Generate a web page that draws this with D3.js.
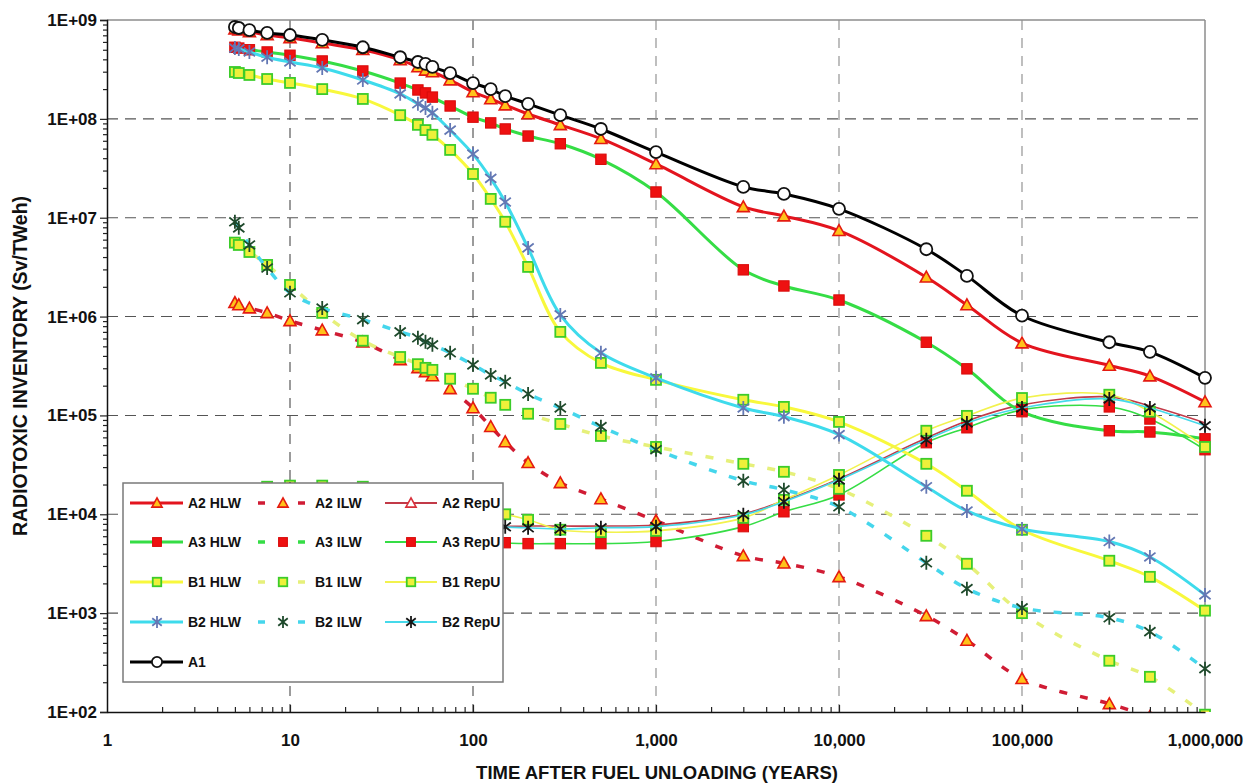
<!DOCTYPE html>
<html>
<head>
<meta charset="utf-8">
<script src="https://cdn.jsdelivr.net/npm/d3@7"></script>
<style>
  html, body { margin: 0; padding: 0; background: #fff; }
  svg { display: block; }
  text { font-family: "Liberation Sans", Arial, Helvetica, sans-serif; font-weight: bold; fill: #111; }
</style>
</head>
<body>
<svg id="chart" width="1256" height="783"></svg>
<script>
// ---------- data ----------
const years = [5, 5.25, 6, 7.5, 10, 15, 25, 40, 50, 55, 60, 75, 100, 125, 150, 200, 300, 500,
  1000, 3000, 5000, 10000, 30000, 50000, 100000, 300000, 500000, 1000000];

const a1 = [8.5e8, 8.3e8, 7.9e8, 7.4e8, 7.05e8, 6.3e8, 5.3e8, 4.2e8, 3.76e8, 3.6e8, 3.35e8, 2.9e8, 2.3e8, 2.0e8,
  1.7e8, 1.42e8, 1.09e8, 7.9e7, 4.6e7, 2.05e7, 1.74e7, 1.23e7, 4.8e6, 2.58e6, 1.02e6, 5.5e5, 4.4e5, 2.4e5];

const a2Hlw = [8.1e8, 7.9e8, 7.6e8, 7.05e8, 6.6e8, 5.85e8, 5.0e8, 3.95e8, 3.35e8, 3.1e8, 2.98e8, 2.47e8, 1.87e8, 1.59e8,
  1.38e8, 1.12e8, 8.7e7, 6.3e7, 3.5e7, 1.29e7, 1.04e7, 7.4e6, 2.5e6, 1.31e6, 5.4e5, 3.2e5, 2.5e5, 1.37e5];
const a2Ilw = [1.38e6, 1.31e6, 1.22e6, 1.09e6, 9.05e5, 7.3e5, 5.5e5, 3.65e5, 3.03e5, 2.76e5, 2.51e5, 1.86e5, 1.19e5, 7.7e4,
  5.4e4, 3.32e4, 2.08e4, 1.43e4, 8.6e3, 3.8e3, 3.2e3, 2.33e3, 9.4e2, 5.3e2, 2.17e2, 1.21e2, 9.0e1, 6.0e1];
const a2RepU = [1.25e4, 1.35e4, 1.55e4, 1.75e4, 1.85e4, 1.8e4, 1.65e4, 1.4e4, 1.25e4, 1.2e4, 1.15e4, 1.0e4, 9.0e3, 8.2e3,
  7.6e3, 7.6e3, 7.6e3, 7.6e3, 7.8e3, 1.01e4, 1.37e4, 2.28e4, 5.9e4, 8.8e4, 1.28e5, 1.54e5, 1.25e5, 8.4e4];

const a3Hlw = [5.3e8, 5.2e8, 5.0e8, 4.75e8, 4.4e8, 3.85e8, 3.05e8, 2.3e8, 1.96e8, 1.83e8, 1.66e8, 1.35e8, 1.04e8, 9.1e7,
  7.9e7, 6.7e7, 5.6e7, 3.9e7, 1.82e7, 2.97e6, 2.04e6, 1.47e6, 5.5e5, 2.96e5, 1.09e5, 7.0e4, 6.8e4, 5.8e4];
const a3Ilw = [];
const a3RepU = [9.0e3, 1.0e4, 1.1e4, 1.25e4, 1.3e4, 1.25e4, 1.1e4, 9.0e3, 8.0e3, 7.6e3, 7.3e3, 6.5e3, 5.9e3, 5.5e3,
  5.16e3, 5.05e3, 5.05e3, 5.05e3, 5.3e3, 7.5e3, 1.06e4, 1.57e4, 5.3e4, 7.5e4, 1.14e5, 1.22e5, 9.2e4, 4.5e4];

const b1Hlw = [2.98e8, 2.91e8, 2.78e8, 2.53e8, 2.31e8, 2.0e8, 1.59e8, 1.09e8, 8.7e7, 7.7e7, 6.9e7, 4.85e7, 2.77e7, 1.55e7,
  9.1e6, 3.18e6, 7.0e5, 3.4e5, 2.29e5, 1.44e5, 1.22e5, 8.6e4, 3.24e4, 1.73e4, 6.97e3, 3.39e3, 2.33e3, 1.06e3];
const b1Ilw = [5.6e6, 5.3e6, 4.5e6, 3.33e6, 2.09e6, 1.09e6, 5.7e5, 3.9e5, 3.3e5, 3.03e5, 2.89e5, 2.35e5, 1.86e5, 1.51e5,
  1.28e5, 1.04e5, 8.2e4, 6.2e4, 4.8e4, 3.24e4, 2.69e4, 1.81e4, 6.06e3, 3.16e3, 1.0e3, 3.3e2, 2.27e2, 9.4e1];
const b1RepU = [1.3e4, 1.4e4, 1.6e4, 1.9e4, 1.95e4, 1.95e4, 1.9e4, 1.65e4, 1.5e4, 1.45e4, 1.4e4, 1.25e4, 1.1e4, 1.05e4,
  1.0e4, 8.8e3, 6.98e3, 6.6e3, 6.8e3, 9.2e3, 1.4e4, 2.5e4, 7.0e4, 9.9e4, 1.5e5, 1.62e5, 1.09e5, 4.8e4];

const b2Hlw = [5.2e8, 5.1e8, 4.75e8, 4.2e8, 3.76e8, 3.27e8, 2.47e8, 1.79e8, 1.42e8, 1.29e8, 1.15e8, 7.7e7, 4.4e7, 2.5e7,
  1.44e7, 4.95e6, 1.04e6, 4.3e5, 2.4e5, 1.19e5, 9.7e4, 6.4e4, 1.9e4, 1.08e4, 7.1e3, 5.3e3, 3.7e3, 1.53e3];
const b2Ilw = [9.1e6, 7.9e6, 5.3e6, 3.1e6, 1.74e6, 1.22e6, 9.3e5, 7.0e5, 6.1e5, 5.56e5, 5.18e5, 4.3e5, 3.25e5, 2.57e5,
  2.19e5, 1.65e5, 1.19e5, 7.7e4, 4.5e4, 2.18e4, 1.77e4, 1.19e4, 3.23e3, 1.77e3, 1.13e3, 8.97e2, 6.5e2, 2.74e2];
const b2RepU = [1.2e4, 1.3e4, 1.5e4, 1.7e4, 1.8e4, 1.75e4, 1.6e4, 1.35e4, 1.2e4, 1.15e4, 1.1e4, 9.8e3, 8.8e3, 8.0e3,
  7.47e3, 7.3e3, 7.1e3, 7.3e3, 7.5e3, 9.9e3, 1.34e4, 2.23e4, 5.67e4, 8.4e4, 1.19e5, 1.47e5, 1.19e5, 7.86e4];

const yTickValues = [1e2, 1e3, 1e4, 1e5, 1e6, 1e7, 1e8, 1e9];
const xTickValues = [1, 10, 100, 1000, 10000, 100000, 1000000];
const xTitle = "TIME AFTER FUEL UNLOADING (YEARS)";
const yTitle = "RADIOTOXIC INVENTORY (Sv/TWeh)";

// ---------- series styling ----------
const series = [
  { name: "A2 HLW",  values: a2Hlw,  kind: "hlw",  line: "#e3141e", marker: "tri" },
  { name: "A2 ILW",  values: a2Ilw,  kind: "ilw",  line: "#d01c34", marker: "tri" },
  { name: "A2 RepU", values: a2RepU, kind: "repu", line: "#c23a48", marker: "triHollow", plotMarkers: false },
  { name: "A3 HLW",  values: a3Hlw,  kind: "hlw",  line: "#35dd45", marker: "redSq" },
  { name: "A3 ILW",  values: a3Ilw,  kind: "ilw",  line: "#35dd45", marker: "redSq" },
  { name: "A3 RepU", values: a3RepU, kind: "repu", line: "#35dd45", marker: "redSq" },
  { name: "B1 HLW",  values: b1Hlw,  kind: "hlw",  line: "#f8f83c", marker: "ySq" },
  { name: "B1 ILW",  values: b1Ilw,  kind: "ilw",  line: "#e6f07a", marker: "ySq" },
  { name: "B1 RepU", values: b1RepU, kind: "repu", line: "#f2f24e", marker: "ySq" },
  { name: "B2 HLW",  values: b2Hlw,  kind: "hlw",  line: "#3edbec", marker: "starBlue" },
  { name: "B2 ILW",  values: b2Ilw,  kind: "ilw",  line: "#45d6ec", marker: "starGreen" },
  { name: "B2 RepU", values: b2RepU, kind: "repu", line: "#45d9ea", marker: "starBlack" },
  { name: "A1",      values: a1,     kind: "hlw",  line: "#000000", marker: "circle" }
];

const widthFor = { hlw: 3, ilw: 3.5, repu: 1.6 };
const dashFor = { hlw: null, ilw: "8,13", repu: null };

// ---------- layout ----------
const svg = d3.select("#chart");
const X0 = 107, X1 = 1205, Y0 = 20, Y1 = 712;
const x = d3.scaleLog().domain([1, 1e6]).range([X0, X1]);
const y = d3.scaleLog().domain([1e2, 1e9]).range([Y1, Y0]);

// gridlines
const grid = svg.append("g").attr("stroke", "#555").attr("stroke-width", 1.1).attr("stroke-dasharray", "11,7");
grid.selectAll("line.h").data(yTickValues.filter(v => v > 1e2 && v < 1e9)).join("line")
  .attr("x1", X0).attr("x2", X1).attr("y1", d => y(d)).attr("y2", d => y(d));
grid.selectAll("line.v").data(xTickValues.filter(v => v > 1 && v < 1e6)).join("line")
  .attr("y1", Y0).attr("y2", Y1).attr("x1", d => x(d)).attr("x2", d => x(d))
  .attr("stroke-dasharray", "10,8").attr("stroke", d => d >= 1000 ? "#8a8a8a" : "#4a4a4a");

// frame top & right
svg.append("line").attr("x1", X0).attr("x2", X1).attr("y1", Y0).attr("y2", Y0).attr("stroke", "#8c8c8c").attr("stroke-width", 1.5);
svg.append("line").attr("x1", X1).attr("x2", X1).attr("y1", Y0).attr("y2", Y1).attr("stroke", "#8c8c8c").attr("stroke-width", 1.5);

// clip
svg.append("clipPath").attr("id", "plotclip").append("rect")
  .attr("x", X0).attr("y", Y0 - 8).attr("width", X1 - X0 + 8).attr("height", Y1 - Y0 + 8);

// marker drawing
function drawMarker(g, type, size) {
  const s = size || 1;
  if (type === "tri" || type === "triHollow") {
    const r = 6 * s;
    g.append("path").attr("d", `M0,${-r} L${r * 1.0},${r * 0.8} L${-r * 1.0},${r * 0.8} Z`)
      .attr("fill", type === "tri" ? "#ffc21a" : "#ffffff")
      .attr("stroke", type === "tri" ? "#e41a10" : "#d8303a").attr("stroke-width", 1.6);
  } else if (type === "redSq") {
    const h = 5.2 * s;
    g.append("rect").attr("x", -h).attr("y", -h).attr("width", 2 * h).attr("height", 2 * h)
      .attr("fill", "#ee1111").attr("stroke", "#d80c0c").attr("stroke-width", 1);
  } else if (type === "ySq") {
    const h = 5 * s;
    g.append("rect").attr("x", -h).attr("y", -h).attr("width", 2 * h).attr("height", 2 * h)
      .attr("fill", "#eef03a").attr("stroke", "#3ccc2a").attr("stroke-width", 1.8);
  } else if (type.startsWith("star")) {
    const r = 7 * s;
    const col = type === "starBlue" ? "#6478b4" : type === "starGreen" ? "#1f4a2c" : "#161616";
    const a = r * 0.8, b = r * 0.62;
    g.append("path").attr("d", `M0,${-r} L0,${r} M${-a},${-b} L${a},${b} M${-a},${b} L${a},${-b}`)
      .attr("stroke", col).attr("stroke-width", 1.8).attr("fill", "none");
  } else if (type === "circle") {
    g.append("circle").attr("r", 6 * s).attr("fill", "#fff").attr("stroke", "#111").attr("stroke-width", 1.8);
  }
}

const lineGen = d3.line()
  .defined(d => d[1] != null)
  .x(d => x(d[0])).y(d => y(d[1]))
  .curve(d3.curveCatmullRom.alpha(0.5));

const plot = svg.append("g").attr("clip-path", "url(#plotclip)");
series.forEach(s => {
  if (!s.values.length) return;
  const pts = years.map((t, i) => [t, s.values[i]]);
  const g = plot.append("g");
  const p = g.append("path").attr("d", lineGen(pts)).attr("fill", "none")
    .attr("stroke", s.line).attr("stroke-width", widthFor[s.kind]);
  if (dashFor[s.kind]) p.attr("stroke-dasharray", dashFor[s.kind]);
  if (s.plotMarkers === false) return;
  pts.forEach(d => {
    if (y(d[1]) > Y1 + 7) return;
    const mg = g.append("g").attr("transform", `translate(${x(d[0])},${y(d[1])})`);
    drawMarker(mg, s.marker, 1);
  });
});

// axes
const fmtY = v => "1E+" + String(Math.round(Math.log10(v))).padStart(2, "0");
const yAxis = svg.append("g").attr("transform", `translate(${X0},0)`)
  .call(d3.axisLeft(y).tickValues(yTickValues).tickFormat(fmtY).tickSize(7).tickPadding(3));
const minorY = [];
for (let k = 2; k < 9; k++) for (let m = 2; m <= 9; m++) minorY.push(m * Math.pow(10, k));
svg.append("g").attr("transform", `translate(${X0},0)`)
  .call(d3.axisLeft(y).tickValues(minorY).tickFormat("").tickSize(4))
  .call(g => g.select(".domain").remove());

const xAxis = svg.append("g").attr("transform", `translate(0,${Y1})`)
  .call(d3.axisBottom(x).tickValues(xTickValues).tickFormat(d3.format(",")).tickSizeInner(-7).tickSizeOuter(0).tickPadding(22));
const minorX = [];
for (let k = 0; k < 6; k++) for (let m = 2; m <= 9; m++) minorX.push(m * Math.pow(10, k));
svg.append("g").attr("transform", `translate(0,${Y1})`)
  .call(d3.axisBottom(x).tickValues(minorX).tickFormat("").tickSize(-5))
  .call(g => g.select(".domain").remove());

svg.selectAll(".domain").attr("stroke", "#111").attr("stroke-width", 1.5);
svg.selectAll(".tick line").attr("stroke", "#222").attr("stroke-width", 1.2);
yAxis.selectAll("text").style("font-size", "17px").style("font-family", "'Liberation Sans', Arial, sans-serif")
  .style("font-weight", "bold").attr("fill", "#111");
xAxis.selectAll("text").style("font-size", "17px").style("font-family", "'Liberation Sans', Arial, sans-serif")
  .style("font-weight", "bold").attr("fill", "#111");
xAxis.selectAll(".tick").filter(d => d === 1 || d === 1e6).select("line").remove();

// titles
svg.append("text").attr("x", 657).attr("y", 779).attr("text-anchor", "middle")
  .style("font-size", "18.5px").text(xTitle);
svg.append("text").attr("transform", "translate(27,366) rotate(-90)").attr("text-anchor", "middle")
  .style("font-size", "19.5px").text(yTitle);

// legend
const LX = 123, LY = 483, LW = 380, LH = 199;
const leg = svg.append("g");
leg.append("rect").attr("x", LX).attr("y", LY).attr("width", LW).attr("height", LH)
  .attr("fill", "#fff").attr("stroke", "#7a7a7a").attr("stroke-width", 1.5);
const rowY = [503, 542, 582, 622, 662];
const cols = [
  { x1: 130, x2: 183, mx: 157, tx: 188 },
  { x1: 258, x2: 305, mx: 283, tx: 315 },
  { x1: 385, x2: 437, mx: 411, tx: 442 }
];
const legendRows = [
  ["A2 HLW", "A2 ILW", "A2 RepU"],
  ["A3 HLW", "A3 ILW", "A3 RepU"],
  ["B1 HLW", "B1 ILW", "B1 RepU"],
  ["B2 HLW", "B2 ILW", "B2 RepU"],
  ["A1"]
];
legendRows.forEach((row, ri) => {
  row.forEach((name, ci) => {
    const s = series.find(d => d.name === name);
    const c = cols[ci], yy = rowY[ri];
    const l = leg.append("line").attr("x1", c.x1).attr("x2", c.x2).attr("y1", yy).attr("y2", yy)
      .attr("stroke", s.line).attr("stroke-width", s.kind === "repu" ? 1.8 : (s.kind === "ilw" ? 3.5 : 3.2));
    if (s.kind === "ilw") l.attr("stroke-dasharray", "7,33,7");
    const mg = leg.append("g").attr("transform", `translate(${c.mx},${yy})`);
    drawMarker(mg, s.marker, 0.85);
    leg.append("text").attr("x", c.tx).attr("y", yy + 5).style("font-size", "14px").text(name);
  });
});
</script>
</body>
</html>
